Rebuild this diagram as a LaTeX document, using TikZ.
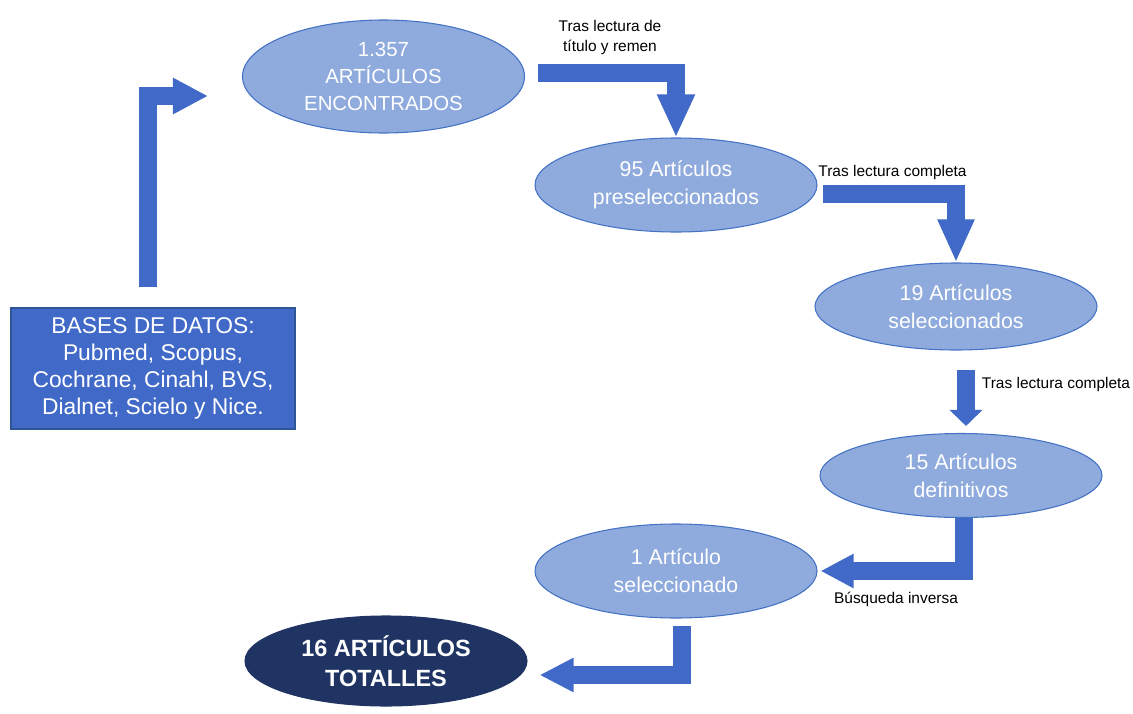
\documentclass[tikz,border=0pt]{standalone}
\usepackage{fontspec}
\setmainfont{Liberation Sans}
\usetikzlibrary{shapes.geometric,arrows.meta,calc}
\definecolor{ellfill}{RGB}{143,170,220}
\definecolor{ellline}{RGB}{68,114,196}
\definecolor{blkblue}{RGB}{65,106,200}
\definecolor{navy}{RGB}{31,52,99}
\definecolor{boxline}{RGB}{47,85,151}
\tikzset{
  ell/.style={ellipse, draw=ellline, line width=0.8pt, fill=ellfill, inner sep=0pt,
    text=white, align=center, font=\fontsize{16}{21}\selectfont, minimum width=211.5pt},
  blockarrow/.style={draw=blkblue, line width=13.5pt, line join=miter, line cap=butt},
  lbl/.style={font=\fontsize{11.6}{14.3}\selectfont, align=center, inner sep=0pt, text=black}
}
\begin{document}
\begin{tikzpicture}[x=0.75pt,y=-0.75pt]
\useasboundingbox (0,0) rectangle (1133,714);
% nodes
\node[rectangle, draw=boxline, line width=0.8pt, fill=blkblue, text=white, align=center,
  inner sep=0pt, minimum width=213pt, minimum height=90.75pt,
  font=\fontsize{17.1}{20.3}\selectfont] (box) at (153,368.5)
  {BASES DE DATOS:\\Pubmed, Scopus,\\Cochrane, Cinahl, BVS,\\Dialnet, Scielo y Nice.};
\node[ell, minimum height=84.75pt, font=\fontsize{15.3}{20}\selectfont] (E1) at (383.5,76.5)
  {1.357\\ARTÍCULOS\\ENCONTRADOS};
\node[ell, minimum height=70.5pt] (E2) at (676,185) {95 Artículos\\preseleccionados};
\node[ell, minimum height=65.25pt] (E3) at (956,306.5) {19 Artículos\\seleccionados};
\node[ell, minimum height=63pt] (E4) at (961,475.5) {15 Artículos\\definitivos};
\node[ell, minimum height=70.5pt] (E5) at (676,571) {1 Artículo\\seleccionado};
\node[ell, draw=navy, fill=navy, minimum height=67.5pt,
  font=\bfseries\fontsize{17.6}{22.5}\selectfont] (E6) at (386,661) {16 ARTÍCULOS\\TOTALLES};
% labels
\node[lbl] (L1) at (610,37.5) {Tras lectura de\\título y remen};
\node[lbl] (L2) at (892.5,172) {Tras lectura completa};
\node[lbl] (L3) at (1056,384) {Tras lectura completa};
\node[lbl] (L4) at (896,599) {Búsqueda inversa};
% block arrows
\draw[blockarrow, -{Triangle[length=26.25pt, width=25.5pt]}]
  ($(box.north)+(-5.5,-20)$) |- ($(E1.west)+(-34,19.5)$);
\draw[blockarrow, -{Triangle[length=32.25pt, width=26.25pt]}]
  ($(E1.east)+(13,-4)$) -| (E2.north);
\draw[blockarrow, -{Triangle[length=32.25pt, width=25.5pt]}]
  ($(E2.east)+(5,8.5)$) -| (E3.north);
\draw[blockarrow, -{Triangle[length=12pt, width=24pt]}]
  ($(E3.south)+(10,19)$) -- ($(E4.north)+(5,-7)$);
\draw[blockarrow, -{Triangle[length=24.75pt, width=24pt]}]
  ($(E4.south)+(2.5,0)$) |- ($(E5.east)+(3,0)$);
\draw[blockarrow, -{Triangle[length=25.5pt, width=24pt]}]
  ($(E5.south)+(5.5,7)$) |- ($(E6.east)+(12,14)$);
\end{tikzpicture}
\end{document}
